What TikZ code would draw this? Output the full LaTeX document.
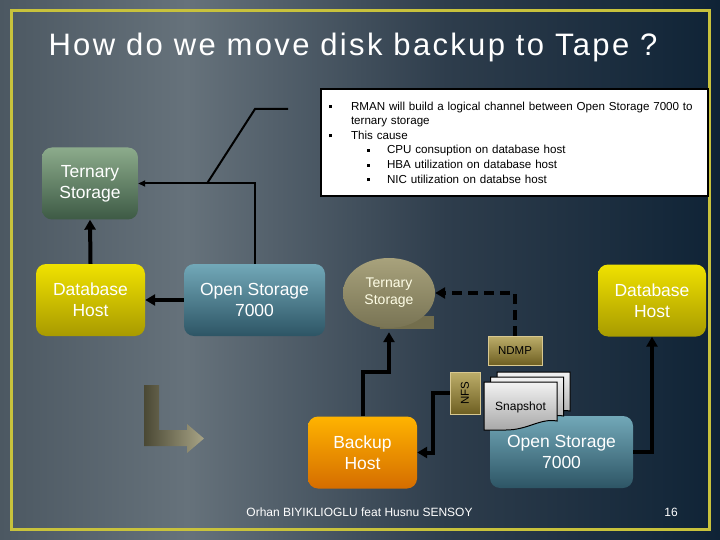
\documentclass[tikz,border=0pt]{standalone}
\usepackage{fontspec}
\usepackage{graphicx}
\setmainfont{Liberation Sans}
\newfontfamily\titlefont[LetterSpace=7.5]{Liberation Sans}
\usetikzlibrary{shapes.geometric,arrows.meta}

\definecolor{bgA}{HTML}{4C5862}
\definecolor{bgB}{HTML}{66727B}
\definecolor{bgC}{HTML}{2E3D4C}
\definecolor{bgD}{HTML}{0F2336}
\definecolor{frameyel}{HTML}{C8C23C}
\definecolor{grnTop}{HTML}{8CAB8C}
\definecolor{grnBot}{HTML}{3D5A44}
\definecolor{yelTop}{HTML}{F0E200}
\definecolor{yelBot}{HTML}{A89A00}
\definecolor{blueTop}{HTML}{72A8B8}
\definecolor{blueBot}{HTML}{2D5565}
\definecolor{orgTop}{HTML}{FFB400}
\definecolor{orgBot}{HTML}{D56C00}
\definecolor{tapeTop}{HTML}{A8A27C}
\definecolor{tapeBot}{HTML}{736E4D}
\definecolor{tagTop}{HTML}{BDAE6A}
\definecolor{tagBot}{HTML}{6E5F22}
\definecolor{tagLine}{HTML}{D8C890}
\definecolor{snapBot}{HTML}{A8A8A8}
\definecolor{larrL}{HTML}{4A4834}
\definecolor{larrR}{HTML}{A8A486}

\pgfdeclarehorizontalshading{slidebg}{100bp}{color(0bp)=(bgA); color(25bp)=(bgA);
  color(38bp)=(bgB); color(56bp)=(bgC); color(75bp)=(bgD); color(100bp)=(bgD)}

\newcommand{\sqbul}{\rule[2pt]{3pt}{3pt}}

\begin{document}
\begin{tikzpicture}[x=1pt,y=-1pt,
    box/.style={rounded corners=10pt,minimum height=72pt,text=white,align=center,
      font=\fontsize{17.5}{21}\selectfont},
    conn/.style={line width=2pt,-{Triangle[length=7pt,width=6pt]}},
    heavy/.style={line width=4pt,-{Triangle[length=10pt,width=11pt]}},
    tag/.style={draw=tagLine,line width=0.8pt,top color=tagTop,bottom color=tagBot,
      font=\fontsize{11.5}{13}\selectfont,inner sep=0pt},
    snapdoc/.style={draw=black,line width=1pt,top color=white!95!black,bottom color=snapBot}]
            \useasboundingbox (0,0) rectangle (720,540);
            \shade[shading=slidebg] (0,0) rectangle (720,540);
            \draw[frameyel,line width=3pt] (11,11) rectangle (709,529);
            \node[text=white,anchor=base west,font=\titlefont\fontsize{31}{36}\selectfont] (title) at (45,56) {How do we move disk backup to Tape ?};

            \node[draw=black,line width=2pt,fill=white,anchor=north west,text width=371pt,
                  inner xsep=8pt,minimum height=107pt,align=left,
                  font=\fontsize{11.6}{14.6}\selectfont] (note) at (320,88)
                  {\makebox[22pt][l]{\sqbul}\mbox{RMAN will build a logical channel between Open Storage 7000 to}\\
                   \hspace*{22pt}ternary storage\\
                   \makebox[22pt][l]{\sqbul}This cause\\
                   \hspace*{38pt}\makebox[20pt][l]{\sqbul}CPU consuption on database host\\
                   \hspace*{38pt}\makebox[20pt][l]{\sqbul}HBA utilization on database host\\
                   \hspace*{38pt}\makebox[20pt][l]{\sqbul}NIC utilization on databse host};

            \node[box,minimum width=96pt,top color=grnTop,bottom color=grnBot] (ts1) at (90,183.5) {Ternary\\Storage};
            \node[box,minimum width=109pt,top color=yelTop,bottom color=yelBot] (dbh1) at (90.5,300) {Database\\Host};
            \node[box,minimum width=141pt,top color=blueTop,bottom color=blueBot] (os1) at (254.5,300) {Open Storage\\7000};

            \draw[conn] (os1.north) |- (ts1.east);
            \draw[heavy] (dbh1.north) -- (ts1.south);
            \draw[heavy] (os1.west) -- (dbh1.east);
            \coordinate (callfoot) at (207,183.5);
            \coordinate (callknee) at (255,109);
            \coordinate (callend) at (288,109);
            \draw[line width=2pt] (callfoot) -- (callknee) -- (callend);

            % tape symbol
            \fill[tapeBot] (380,316) rectangle (434,329);
            \shade[top color=tapeTop,bottom color=tapeBot!96!white] (389,293) ellipse (46 and 35);
            \node[ellipse,minimum width=92pt,minimum height=70pt,inner sep=0pt,
                  text=white!90!yellow,align=center,
                  font=\fontsize{14}{17}\selectfont] (tape) at (389,293) {Ternary\\Storage};
            \node[box,minimum width=108pt,top color=yelTop,bottom color=yelBot] (dbh2) at (652,300.5) {Database\\Host};
            \node[box,minimum width=109pt,top color=orgTop,bottom color=orgBot] (bh) at (362.5,452.5) {Backup\\Host};
            \node[box,minimum width=143pt,top color=blueTop,bottom color=blueBot] (os2) at (561.5,452) {Open Storage\\7000};

            \foreach \dx/\dy in {13/-10,6.5/-5,0/0}
            {
                \begin{scope}[shift={(\dx,\dy)}]
                    \draw[snapdoc] (484,382) -- (557,382) -- (557,421)
                        .. controls (540,418) and (528,430) .. (506,430) -- (484,430) -- cycle;
                \end{scope}
            }
            \node[font=\fontsize{12}{14}\selectfont] (snap) at (520.5,407) {Snapshot};
            \node[tag,minimum width=54pt,minimum height=29pt] (ndmp) at (515,350.5) {\color{black}NDMP};
            \node[tag,minimum width=30pt,minimum height=42pt] (nfs) at (465,393) {\color{black}\rotatebox{90}{NFS}};

            \draw[heavy,dash pattern=on 10pt off 6pt] (ndmp.north) |- (tape.east);
            \draw[heavy] (bh.north) -- ++(0,-44) -| ([yshift=-4pt]tape.south);
            \draw[heavy] (nfs.west) -- ++(-17,0) |- (bh.east);
            \draw[heavy] (os2.east) -| (dbh2.south);

            \shade[left color=larrL,right color=larrR] (144,385) -- (159,385) -- (159,430) -- (187,430)
                -- (187,424) -- (204,438.5) -- (187,453) -- (187,446) -- (144,446) -- cycle;

            \node[text=white,font=\fontsize{12}{14}\selectfont] (credit) at (359.5,512) {Orhan BIYIKLIOGLU feat Husnu SENSOY};
            \node[text=white,font=\fontsize{12}{14}\selectfont] (pageno) at (671,512) {16};
\end{tikzpicture}
\end{document}
